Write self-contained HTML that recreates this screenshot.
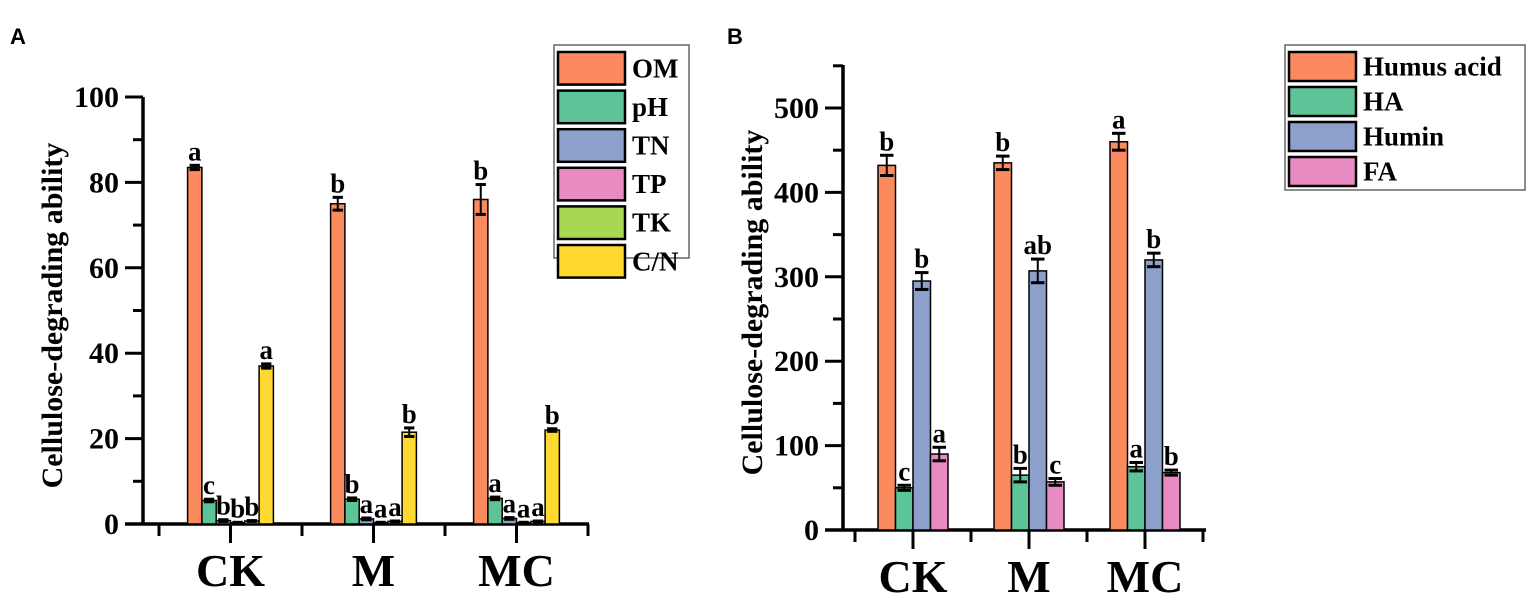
<!DOCTYPE html>
<html><head><meta charset="utf-8"><style>
body{margin:0;background:#fff;}
svg text{font-family:"Liberation Serif",serif;font-weight:bold;fill:#000;}
</style></head><body>
<svg id="chart" width="1535" height="606" xmlns="http://www.w3.org/2000/svg"></svg>
<script>
const groups=["CK","M","MC"];
const seriesA=["OM","pH","TN","TP","TK","C/N"];
const colorsA=["#fb8b5e","#5cc497","#8d9fcb","#e98bc3","#a6d854","#ffd92f"];
const valuesA=[[83.5,75,76],[5.5,5.8,6],[0.8,1.2,1.3],[0.3,0.3,0.3],[0.7,0.6,0.6],[37,21.5,22]];
const errorsA=[[0.5,1.5,3.5],[0.3,0.3,0.3],[0.2,0.2,0.2],[0.1,0.1,0.1],[0.1,0.1,0.1],[0.5,1,0.3]];
const lettersA=[["a","b","b"],["c","b","a"],["b","a","a"],["b","a","a"],["b","a","a"],["a","b","b"]];
const ticksA=[0,20,40,60,80,100];
const seriesB=["Humus acid","HA","Humin","FA"];
const colorsB=["#fb8b5e","#5cc497","#8d9fcb","#e98bc3"];
const valuesB=[[432,435,460],[50,65,75],[295,307,320],[90,57,68]];
const errorsB=[[12,8,10],[3,8,5],[10,14,8],[8,4,3]];
const lettersB=[["b","b","a"],["c","b","a"],["b","ab","b"],["a","c","b"]];
const ticksB=[0,100,200,300,400,500];

const svg=document.getElementById('chart');
const NS="http://www.w3.org/2000/svg";
function el(tag,attrs,parent){const e=document.createElementNS(NS,tag);for(const k in attrs)e.setAttribute(k,attrs[k]);(parent||svg).appendChild(e);return e;}

function panel(cfg){
  const g=el('g',{});
  
  
  const y=v=>cfg.y0-(v/cfg.ymax)*(cfg.y0-cfg.yTop);
  const yv=cfg.axisTop;
  const ya=el('line',{x1:cfg.x0,y1:cfg.y0,x2:cfg.x0,y2:yv,stroke:'#000','stroke-width':3.5},g);
  
  const xa=el('line',{x1:cfg.x0-18,y1:cfg.y0,x2:cfg.x1,y2:cfg.y0,stroke:'#000','stroke-width':3.5},g);
  
  cfg.ticks.forEach(t=>{
    el('line',{x1:cfg.x0-18,y1:y(t),x2:cfg.x0,y2:y(t),stroke:'#000','stroke-width':3},g);
    const tx=el('text',{x:cfg.x0-24,y:y(t)+10,'text-anchor':'end','font-size':30},g);tx.textContent=t;
    
    const m=t+cfg.minor;
    if(y(m)>=yv) el('line',{x1:cfg.x0-10,y1:y(m),x2:cfg.x0,y2:y(m),stroke:'#000','stroke-width':3},g);
  });
  for(let i=0;i<=6;i++){
    const xx=cfg.xt0+i*cfg.gap/2;
    el('line',{x1:xx,y1:cfg.y0,x2:xx,y2:cfg.y0+(i%2?19:12),stroke:'#000','stroke-width':3},g);
  }
  groups.forEach((gn,gi)=>{
    const cx=cfg.xt0+cfg.gap/2+gi*cfg.gap;
    const t=el('text',{x:cx,y:cfg.y0+62,'text-anchor':'middle','font-size':46},g);t.textContent=gn;
    
    const n=cfg.series.length;
    cfg.values.forEach((vals,si)=>{
      const bx=cx-n*cfg.bw/2+si*cfg.bw;
      const v=vals[gi],e=cfg.errors[si][gi];
      const r=el('rect',{x:bx,y:y(v),width:cfg.bw,height:cfg.y0-y(v),fill:cfg.colors[si],stroke:'#000','stroke-width':1.5},g);
      
      
      const mx=bx+cfg.bw/2;
      el('line',{x1:mx,y1:y(v+e),x2:mx,y2:y(v-e),stroke:'#000','stroke-width':2},g);
      el('line',{x1:mx-cfg.bw/2+2,y1:y(v+e),x2:mx+cfg.bw/2-2,y2:y(v+e),stroke:'#000','stroke-width':3},g);
      el('line',{x1:mx-cfg.bw/2+2,y1:y(v-e),x2:mx+cfg.bw/2-2,y2:y(v-e),stroke:'#000','stroke-width':3},g);
      const lt=el('text',{x:mx,y:y(v+e)-5,'text-anchor':'middle','font-size':27},g);lt.textContent=cfg.letters[si][gi];
      
    });
  });
  const yt=el('text',{x:0,y:0,'text-anchor':'middle','font-size':30,transform:`translate(${cfg.titleX},${(cfg.y0+yv)/2+5}) rotate(-90)`},g);
  yt.textContent='Cellulose-degrading ability';
  
  const L=cfg.leg;
  const lb=el('rect',{x:L.x,y:L.y,width:L.w,height:L.h,fill:'#fff',stroke:'#666','stroke-width':1.5},g);
  
  cfg.series.forEach((s,i)=>{
    const sy=L.y+7+i*L.pitch;
    const sw=el('rect',{x:L.x+4,y:sy,width:67,height:L.pitch-6,fill:cfg.colors[i],stroke:'#000','stroke-width':2.5},g);
    
    const tt=el('text',{x:L.x+78,y:sy+L.pitch/2+6,'font-size':27},g);tt.textContent=s;
    
  });
}
panel({name:'panel-a',series:seriesA,colors:colorsA,values:valuesA,errors:errorsA,letters:lettersA,ticks:ticksA,minor:10,
  ymax:100,y0:524,yTop:97,axisTop:97,x0:143,x1:589,xt0:159,gap:143,bw:14.3,titleX:62,
  leg:{x:554,y:45,w:135,h:213,pitch:38.6}});
panel({name:'panel-b',series:seriesB,colors:colorsB,values:valuesB,errors:errorsB,letters:lettersB,ticks:ticksB,minor:50,
  ymax:500,y0:530,yTop:108,axisTop:65,x0:843,x1:1206,xt0:855,gap:116,bw:17.5,titleX:762,
  leg:{x:1285,y:45,w:240,h:145,pitch:35}});
const a=el('text',{x:10,y:44,'font-size':22,style:'font-family:"Liberation Sans",sans-serif'});a.textContent='A';

const b=el('text',{x:727,y:44,'font-size':22,style:'font-family:"Liberation Sans",sans-serif'});b.textContent='B';

</script>
</body></html>
